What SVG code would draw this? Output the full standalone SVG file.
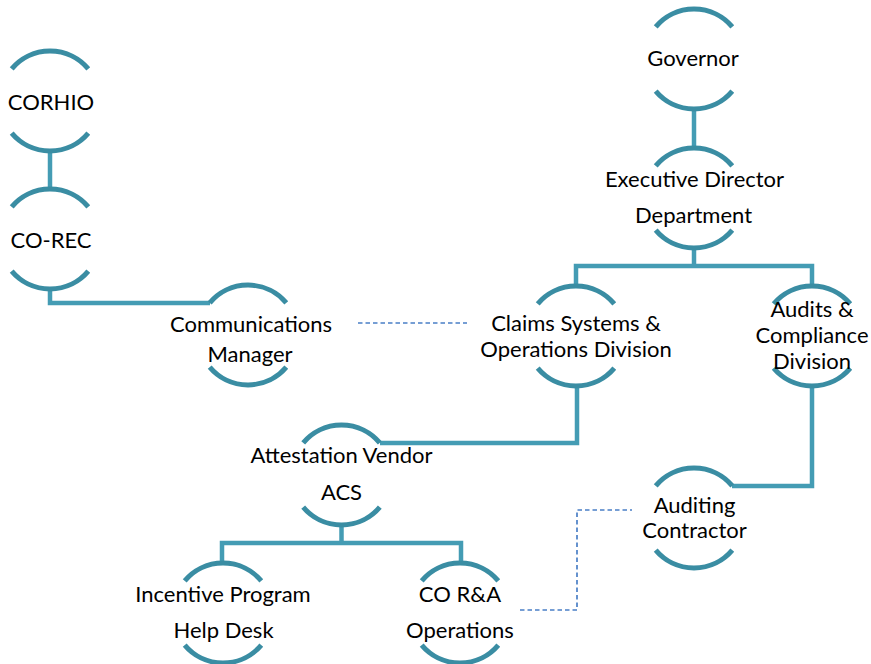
<svg xmlns="http://www.w3.org/2000/svg" width="871" height="664" viewBox="0 0 871 664">
<style>
.arc{fill:none;stroke:#3A8DA3;stroke-width:5}
.ln{fill:none;stroke:#449CB4;stroke-width:4.5}
.dash{fill:none;stroke:#4A7FC6;stroke-width:1.7;stroke-dasharray:4.5 3}
text{font-family:Lato,"Liberation Sans",sans-serif;font-size:22px;fill:#000;text-anchor:middle}
</style>
<rect width="871" height="664" fill="#fff"/>
<g id="connectors">
<path class="ln" d="M50,151 V189"/>
<path class="ln" d="M50,289 V303 H210"/>
<path class="ln" d="M694,109 V148"/>
<path class="ln" d="M694,248 V266"/>
<path class="ln" d="M576,286 V266 H812 V286"/>
<path class="ln" d="M577,386 V443 H380"/>
<path class="ln" d="M812,386 V486 H732"/>
<path class="ln" d="M341.5,525 V543"/>
<path class="ln" d="M222,563 V543 H461 V563"/>
<path class="dash" d="M358,323 H467"/>
<path class="dash" d="M520,610 H577 V510 H632"/>
</g>
<g id="corhio" transform="translate(50,101)">
<path class="arc" d="M-38.3,-32.1 A50,50 0 0 1 38.3,-32.1 M-38.3,32.1 A50,50 0 0 0 38.3,32.1"/>
<text x="1" y="9">CORHIO</text>
</g>
<g id="corec" transform="translate(50,239)">
<path class="arc" d="M-38.3,-32.1 A50,50 0 0 1 38.3,-32.1 M-38.3,32.1 A50,50 0 0 0 38.3,32.1"/>
<text x="1" y="9">CO-REC</text>
</g>
<g id="governor" transform="translate(694,59)">
<path class="arc" d="M-38.3,-32.1 A50,50 0 0 1 38.3,-32.1 M-38.3,32.1 A50,50 0 0 0 38.3,32.1"/>
<text x="-1" y="7">Governor</text>
</g>
<g id="executive" transform="translate(694,198)">
<path class="arc" d="M-38.3,-32.1 A50,50 0 0 1 38.3,-32.1 M-38.3,32.1 A50,50 0 0 0 38.3,32.1"/>
<text x="0.5" y="-11">Executive Director</text>
<text x="-0.5" y="25">Department</text>
</g>
<g id="communications" transform="translate(248,335)">
<path class="arc" d="M-38.3,-32.1 A50,50 0 0 1 38.3,-32.1 M-38.3,32.1 A50,50 0 0 0 38.3,32.1"/>
<text x="3" y="-3">Communications</text>
<text x="2" y="27">Manager</text>
</g>
<g id="claims" transform="translate(576,336)">
<path class="arc" d="M-38.3,-32.1 A50,50 0 0 1 38.3,-32.1 M-38.3,32.1 A50,50 0 0 0 38.3,32.1"/>
<text x="0" y="-5">Claims Systems &amp;</text>
<text x="0" y="21">Operations Division</text>
</g>
<g id="audits" transform="translate(812,336)">
<path class="arc" d="M-38.3,-32.1 A50,50 0 0 1 38.3,-32.1 M-38.3,32.1 A50,50 0 0 0 38.3,32.1"/>
<text x="0" y="-19">Audits &amp;</text>
<text x="0" y="7">Compliance</text>
<text x="0" y="33">Division</text>
</g>
<g id="attestation" transform="translate(341.5,475)">
<path class="arc" d="M-38.3,-32.1 A50,50 0 0 1 38.3,-32.1 M-38.3,32.1 A50,50 0 0 0 38.3,32.1"/>
<text x="0" y="-12">Attestation Vendor</text>
<text x="0" y="25">ACS</text>
</g>
<g id="auditing" transform="translate(694,518)">
<path class="arc" d="M-38.3,-32.1 A50,50 0 0 1 38.3,-32.1 M-38.3,32.1 A50,50 0 0 0 38.3,32.1"/>
<text x="0.5" y="-5">Auditing</text>
<text x="0.5" y="20">Contractor</text>
</g>
<g id="incentive" transform="translate(223,613)">
<path class="arc" d="M-38.3,-32.1 A50,50 0 0 1 38.3,-32.1 M-38.3,32.1 A50,50 0 0 0 38.3,32.1"/>
<text x="0" y="-11">Incentive Program</text>
<text x="0.5" y="25">Help Desk</text>
</g>
<g id="cora" transform="translate(460,613)">
<path class="arc" d="M-38.3,-32.1 A50,50 0 0 1 38.3,-32.1 M-38.3,32.1 A50,50 0 0 0 38.3,32.1"/>
<text x="0" y="-11">CO R&amp;A</text>
<text x="0" y="25">Operations</text>
</g>
</svg>
